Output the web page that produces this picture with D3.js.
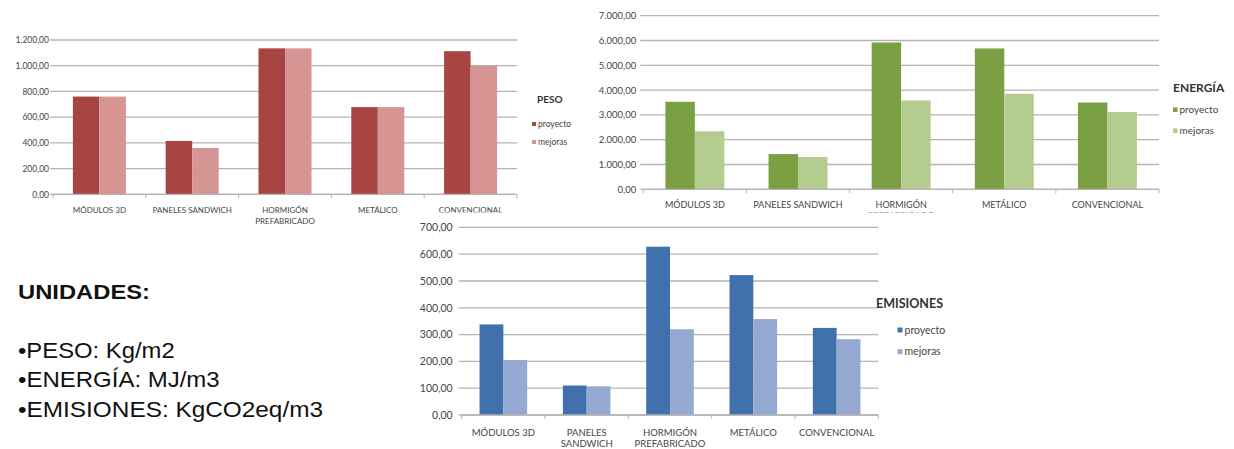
<!DOCTYPE html>
<html>
<head>
<meta charset="utf-8">
<script src="https://cdn.jsdelivr.net/npm/d3@7"></script>
<style>
  html, body { margin: 0; padding: 0; background: #ffffff; }
  svg { display: block; }
</style>
</head>
<body>
<svg id="chart" width="1234" height="449"></svg>
<script>
// ---------- DATA ----------
const categories = ["MÓDULOS 3D", "PANELES SANDWICH", "HORMIGÓN PREFABRICADO", "METÁLICO", "CONVENCIONAL"];
const labelsPeso = ["MÓDULOS 3D", "PANELES SANDWICH", "HORMIGÓN\nPREFABRICADO", "METÁLICO", "CONVENCIONAL"];
const labelsEnergia = ["MÓDULOS 3D", "PANELES SANDWICH", "HORMIGÓN\nPREFABRICADO", "METÁLICO", "CONVENCIONAL"];
const labelsEmisiones = ["MÓDULOS 3D", "PANELES\nSANDWICH", "HORMIGÓN\nPREFABRICADO", "METÁLICO", "CONVENCIONAL"];
const seriesNames = ["proyecto", "mejoras"];

const pesoProyecto = [760, 415, 1135, 678, 1113];
const pesoMejoras = [760, 360, 1135, 678, 1000];
const energiaProyecto = [3530, 1420, 5920, 5680, 3500];
const energiaMejoras = [2340, 1300, 3580, 3850, 3120];
const emisionesProyecto = [338, 110, 628, 522, 325];
const emisionesMejoras = [205, 107, 320, 358, 283];

const pesoTicks = [0, 200, 400, 600, 800, 1000, 1200];
const energiaTicks = [0, 1000, 2000, 3000, 4000, 5000, 6000, 7000];
const emisionesTicks = [0, 100, 200, 300, 400, 500, 600, 700];

const unitsTitle = "UNIDADES:";
const unitsLines = ["•PESO: Kg/m2", "•ENERGÍA: MJ/m3", "•EMISIONES: KgCO2eq/m3"];

// ---------- DRAWING ----------
const svg = d3.select("#chart");
const fmt = d3.formatLocale({decimal: ",", thousands: ".", grouping: [3], currency: ["", ""]}).format(",.2f");
const FONT = "Lato, 'Open Sans', sans-serif";
const TXT = "#454545";
const GRID = "#b4b4b4";

function drawChart(opt) {
  const g = svg.append("g");
  if (opt.cover) {
    g.append("rect").attr("x", opt.cover[0]).attr("y", opt.cover[1])
      .attr("width", opt.cover[2]).attr("height", opt.cover[3]).attr("fill", "#fff");
  }
  const y = d3.scaleLinear().domain([0, d3.max(opt.ticks)]).range([opt.bottom, opt.top]);
  const x0 = d3.scaleBand().domain(categories).range([opt.left, opt.right]).padding(0);
  const x1 = d3.scaleBand().domain(seriesNames).range([0, x0.bandwidth()])
    .paddingInner(0).paddingOuter(0.75);

  // gridlines
  g.append("g").selectAll("line").data(opt.ticks).join("line")
    .attr("x1", opt.left - 3).attr("x2", opt.right)
    .attr("y1", d => y(d)).attr("y2", d => y(d))
    .attr("stroke", GRID).attr("stroke-width", 1.3);

  // y axis labels through d3 axis
  const ax = g.append("g").attr("transform", `translate(${opt.left},0)`)
    .call(d3.axisLeft(y).tickValues(opt.ticks).tickFormat(fmt).tickSize(0).tickPadding(opt.tickPad));
  ax.select(".domain").remove();
  ax.selectAll("text").attr("fill", TXT).style("font-family", FONT).style("font-size", opt.tickFont + "px");

  // bars
  const vals = [opt.v1, opt.v2];
  seriesNames.forEach((s, si) => {
    g.append("g").selectAll("rect").data(vals[si]).join("rect")
      .attr("x", (d, i) => x0(categories[i]) + x1(s))
      .attr("width", x1.bandwidth())
      .attr("y", d => y(d))
      .attr("height", d => y(0) - y(d))
      .attr("fill", opt.colors[si]);
  });

  // baseline
  g.append("line").attr("x1", opt.left).attr("x2", opt.right)
    .attr("y1", y(0)).attr("y2", y(0)).attr("stroke", GRID).attr("stroke-width", 1.3);
  // category boundary ticks
  const bounds = categories.map(c => x0(c)).concat([opt.right]);
  g.append("g").selectAll("line").data(bounds).join("line")
    .attr("x1", d => d).attr("x2", d => d)
    .attr("y1", y(0)).attr("y2", y(0) + 4)
    .attr("stroke", GRID).attr("stroke-width", 1);

  // category labels
  const lab = g.append("g");
  categories.forEach((c, i) => {
    const lines = opt.labels[i].split("\n");
    const t = lab.append("text")
      .attr("x", x0(c) + x0.bandwidth() / 2)
      .attr("y", opt.labelY)
      .attr("text-anchor", "middle")
      .attr("fill", TXT)
      .style("font-family", FONT).style("font-size", opt.labelFont + "px");
    lines.forEach((ln, li) => {
      t.append("tspan").attr("x", x0(c) + x0.bandwidth() / 2)
        .attr("dy", li === 0 ? 0 : opt.labelLH).text(ln);
    });
  });

  // legend
  const lg = g.append("g");
  lg.append("text").attr("x", opt.legX).attr("y", opt.legTitleY)
    .attr("fill", "#333").style("font-family", FONT).style("font-weight", "bold")
    .style("font-size", opt.legTitleFont + "px").text(opt.title);
  seriesNames.forEach((s, si) => {
    const cy = opt.legItemY[si];
    lg.append("rect").attr("x", opt.legSqX).attr("y", cy - opt.legSq / 2)
      .attr("width", opt.legSq).attr("height", opt.legSq).attr("fill", opt.colors[si]);
    lg.append("text").attr("x", opt.legSqX + opt.legSq + 2).attr("y", cy)
      .attr("dy", "0.35em").attr("fill", TXT)
      .style("font-family", FONT).style("font-size", opt.legFont + "px").text(s);
  });
}

drawChart({
  left: 53, right: 517, top: 40, bottom: 194.3,
  ticks: pesoTicks, tickPad: 4, tickFont: 8.5,
  v1: pesoProyecto, v2: pesoMejoras, colors: ["#A84442", "#D69493"],
  labels: labelsPeso, labelY: 213, labelLH: 10.5, labelFont: 8,
  title: "PESO", legX: 537, legTitleY: 102.5, legTitleFont: 10,
  legSqX: 532, legSq: 4, legItemY: [124, 142], legFont: 8.5
});

drawChart({
  left: 643.3, right: 1159, top: 15.7, bottom: 189.3,
  ticks: energiaTicks, tickPad: 7, tickFont: 9.5,
  v1: energiaProyecto, v2: energiaMejoras, colors: ["#7BA043", "#B5CC8F"],
  labels: labelsEnergia, labelY: 207.5, labelLH: 11, labelFont: 9,
  title: "ENERGÍA", legX: 1173, legTitleY: 91.5, legTitleFont: 12,
  legSqX: 1173, legSq: 4.5, legItemY: [109.7, 130.7], legFont: 10
});

drawChart({
  cover: [405, 212.5, 585, 237],
  left: 461.7, right: 878.3, top: 227.4, bottom: 415,
  ticks: emisionesTicks, tickPad: 9, tickFont: 10.5,
  v1: emisionesProyecto, v2: emisionesMejoras, colors: ["#4171AD", "#95A9D3"],
  labels: labelsEmisiones, labelY: 436, labelLH: 10.5, labelFont: 9.5,
  title: "EMISIONES", legX: 876, legTitleY: 307.5, legTitleFont: 12.5,
  legSqX: 897.5, legSq: 5, legItemY: [330, 351.7], legFont: 10.5
});

// units text
svg.append("text").attr("x", 18).attr("y", 299.3)
  .attr("textLength", 132).attr("lengthAdjust", "spacingAndGlyphs")
  .attr("fill", "#111").style("font-family", "'Liberation Sans', Arial, sans-serif")
  .style("font-weight", "bold").style("font-size", "21px").text(unitsTitle);
const unitWidths = [156.7, 201.7, 305];
const unitBase = [357.5, 387, 416.5];
unitsLines.forEach((t, i) => {
  svg.append("text").attr("x", 18).attr("y", unitBase[i])
    .attr("textLength", unitWidths[i]).attr("lengthAdjust", "spacingAndGlyphs")
    .attr("fill", "#111").style("font-family", "'Liberation Sans', Arial, sans-serif")
    .style("font-size", "22px").text(t);
});
</script>
</body>
</html>
